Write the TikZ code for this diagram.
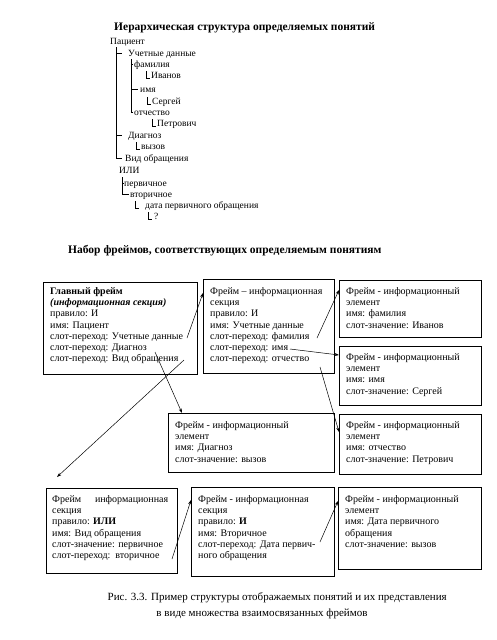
\documentclass[tikz,border=0pt]{standalone}
\usepackage{fontspec}
\setmainfont{Liberation Serif}
\usetikzlibrary{arrows.meta}
\begin{document}
\begin{tikzpicture}[x=1pt,y=-1pt,
  tr/.style={anchor=base west, inner sep=0pt, font=\fontsize{9.5}{11}\selectfont},
  tline/.style={line width=0.6pt},
  frm/.style={draw, line width=0.7pt, anchor=north west, inner sep=0pt, rectangle},
  ftxt/.style={anchor=north west, align=left, inner sep=0pt, font=\fontsize{10}{11.3}\selectfont},
  ttl/.style={anchor=west, inner sep=0pt, font=\fontsize{11.5}{13}\selectfont\bfseries},
  captxt/.style={inner sep=0pt, font=\fontsize{11}{13}\selectfont},
  arr/.style={line width=0.5pt, -{Stealth[length=4.5pt,width=3pt]}}]
\useasboundingbox[fill=white] (0,0) rectangle (496,640);

% ---------- hierarchy ----------
\node[ttl] (t1) at (114,28) {Иерархическая структура определяемых понятий};
\node[tr] (pac)  at (110,44)  {Пациент};
\node[tr] (uch)  at (128,56)  {Учетные данные};
\node[tr] (fam)  at (134,67)  {фамилия};
\node[tr] (ivan) at (151,78)  {Иванов};
\node[tr] (imya) at (140,92)  {имя};
\node[tr] (serg) at (152,104) {Сергей};
\node[tr] (otch) at (134,115) {отчество};
\node[tr] (petr) at (157,126) {Петрович};
\node[tr] (diag) at (128,138) {Диагноз};
\node[tr] (vyz)  at (141,149) {вызов};
\node[tr] (vid)  at (125,161) {Вид обращения};
\node[tr] (ili)  at (119,173) {ИЛИ};
\node[tr] (perv) at (124,186) {первичное};
\node[tr] (vtor) at (130,197) {вторичное};
\node[tr] (data) at (145,208) {дата первичного обращения};
\node[tr] (q)    at (154,219) {?};

\coordinate (v1) at (116,47);
\coordinate (v2) at (131,59);
\coordinate (v3) at (122,177);
\draw[tline] (v1) |- ([xshift=-3pt,yshift=3pt]vid.base west);
\draw[tline] (v1 |- uch.base west) ++(0,-3) -- ([xshift=-6pt,yshift=3pt]uch.base west);
\draw[tline] (v1 |- diag.base west) ++(0,-3) -- ([xshift=-6pt,yshift=3pt]diag.base west);
\draw[tline] (v2) |- ([xshift=-1pt,yshift=3pt]otch.base west);
\draw[tline] (v2 |- fam.base west) ++(0,-3) -- ([xshift=-1pt,yshift=3pt]fam.base west);
\draw[tline] (v2 |- imya.base west) ++(0,-3) -- ([xshift=-2pt,yshift=3pt]imya.base west);
\draw[tline] (v3) |- ([xshift=-1pt,yshift=3pt]vtor.base west);
\draw[tline] (v3 |- perv.base west) ++(0,-3) -- ([yshift=3pt]perv.base west);
\foreach \n in {ivan,serg,petr,vyz}
  \draw[tline] ([xshift=-5pt,yshift=7pt]\n.base west) |- ([xshift=-1.5pt]\n.base west);
\draw[tline] ([xshift=-10pt,yshift=7pt]data.base west) |- ([xshift=-6pt]data.base west);
\draw[tline] ([xshift=-6pt,yshift=7pt]q.base west) |- ([xshift=-2pt]q.base west);

% ---------- frames ----------
\node[ttl] (t2) at (68,251) {Набор фреймов, соответствующих определяемым понятиям};

\node[frm, minimum width=154pt, minimum height=92pt] (mainb) at (43,282) {};
\node[ftxt] (maint) at ([xshift=7pt,yshift=-5pt]mainb.north west)
 {\textbf{Главный фрейм}\\ \textbf{\textit{(информационная секция)}}\\ правило: И\\ имя: Пациент\\
  слот-переход: Учетные данные\\ слот-переход: Диагноз\\ слот-переход: Вид обращения};

\node[frm, minimum width=131pt, minimum height=94pt] (uchb) at (203,279) {};
\node[ftxt] (ucht) at ([xshift=7pt,yshift=-8pt]uchb.north west)
 {Фрейм – информационная\\ секция\\ правило: И\\ имя: Учетные данные\\
  слот-переход: фамилия\\ слот-переход: имя\\ слот-переход: отчество};

\node[frm, minimum width=142pt, minimum height=57pt] (famb) at (339,280) {};
\node[ftxt] (famt) at ([xshift=7pt,yshift=-7pt]famb.north west)
 {Фрейм - информационный\\ элемент\\ имя: фамилия\\ слот-значение: Иванов};

\node[frm, minimum width=142pt, minimum height=59pt] (imyab) at (339,346) {};
\node[ftxt] (imyat) at ([xshift=7pt,yshift=-7pt]imyab.north west)
 {Фрейм - информационный\\ элемент\\ имя: имя\\ слот-значение: Сергей};

\node[frm, minimum width=142pt, minimum height=60pt] (otchb) at (339,414) {};
\node[ftxt] (otcht) at ([xshift=7pt,yshift=-7pt]otchb.north west)
 {Фрейм - информационный\\ элемент\\ имя: отчество\\ слот-значение: Петрович};

\node[frm, minimum width=166pt, minimum height=59pt] (diagb) at (168,413) {};
\node[ftxt] (diagt) at ([xshift=7pt,yshift=-8pt]diagb.north west)
 {Фрейм - информационный\\ элемент\\ имя: Диагноз\\ слот-значение: вызов};

\node[frm, minimum width=131pt, minimum height=85pt] (vidb) at (46,488) {};
\node[ftxt] (vidt) at ([xshift=6pt,yshift=-7pt]vidb.north west)
 {\hbox to 116pt{Фрейм\hfill информационная}\\ секция\\ правило: \textbf{ИЛИ}\\ имя: Вид обращения\\
  слот-значение: первичное\\ слот-переход:\ \ вторичное};

\node[frm, minimum width=143pt, minimum height=89pt] (vtorb) at (191,487) {};
\node[ftxt] (vtort) at ([xshift=7pt,yshift=-8pt]vtorb.north west)
 {Фрейм - информационная\\ секция\\ правило: \textbf{И}\\ имя: Вторичное\\
  слот-переход: Дата первич-\\ ного обращения};

\node[frm, minimum width=143pt, minimum height=82pt] (datab) at (338,487) {};
\node[ftxt] (datat) at ([xshift=7pt,yshift=-8pt]datab.north west)
 {Фрейм - информационный\\ элемент\\ имя: Дата первичного\\ обращения\\ слот-значение: вызов};

% ---------- arrows ----------
\coordinate (a1) at (187,338);
\coordinate (a2) at (317,338);
\coordinate (a3) at (290,349);
\coordinate (a4) at (320,367);
\coordinate (a5) at (155,352);
\coordinate (a6) at (184,360);
\coordinate (a7) at (172,559);
\coordinate (a8) at (320,542);
\coordinate (e6) at ([xshift=11pt,yshift=11pt]vidb.north west);
\draw[arr] (a1) -- ([yshift=-14pt]uchb.north west);
\draw[arr] (a2) -- ([yshift=-10pt]famb.north west);
\draw[arr] (a3) -- ([yshift=-9pt]imyab.north west);
\draw[arr] (a4) -- ([yshift=-18pt]otchb.north west);
\draw[arr] (a5) -- ([xshift=14pt]diagb.north west);
\draw[arr] (a6) -- (e6);
\draw[arr] (a7) -- ([yshift=-13pt]vtorb.north west);
\draw[arr] (a8) -- ([yshift=-14pt]datab.north west);

% ---------- caption ----------
\node[captxt, anchor=base east] (cap1) at (447,600) {Рис. 3.3. Пример структуры отображаемых понятий и их представления};
\node[captxt, anchor=base] (cap2) at (262,616) {в виде множества взаимосвязанных фреймов};
\end{tikzpicture}
\end{document}
